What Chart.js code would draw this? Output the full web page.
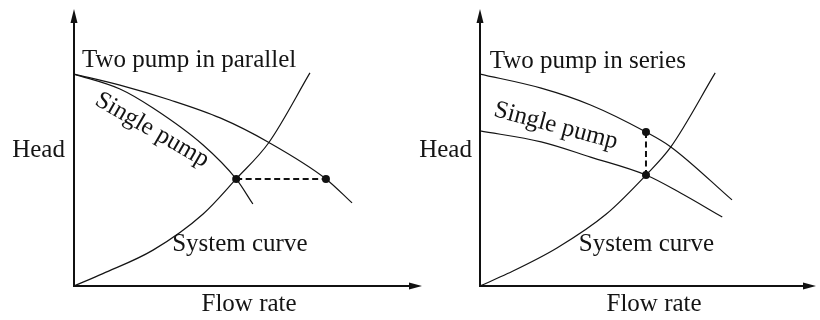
<!DOCTYPE html>
<html lang="en">
<head>
<meta charset="UTF-8">
<title>Pumps in parallel and in series</title>
<script src="https://cdn.jsdelivr.net/npm/chart.js"></script>
<style>
    body {
        margin: 0;
        background: #fff;
    }
    .wrap {
        position: relative;
        width: 820px;
        height: 320px;
    }
    canvas {
        position: absolute;
        top: 0;
    }
    #parallel { left: 0; }
    #series { left: 410px; }
</style>
</head>
<body>
<div class="wrap">
    <canvas id="parallel" width="430" height="320"></canvas>
    <canvas id="series" width="410" height="320"></canvas>
</div>
<script>
// flow rate (x) and head (y), arbitrary units 0..10
var parallelFlow = [0, 1.32, 2.76, 4.20, 5.60, 7.24, 7.99];
var parallelHead = [7.68, 7.28, 6.74, 6.09, 5.20, 3.88, 3.01];
var singleFlowL = [0, 1.32, 2.27, 3.71, 4.66, 5.14];
var singleHeadL = [7.68, 7.14, 6.45, 5.11, 3.88, 2.97];
var systemFlowL = [0, 0.83, 2.27, 3.71, 4.66, 5.60, 6.78];
var systemHeadL = [0, 0.45, 1.30, 2.61, 3.88, 5.20, 7.72];
var opFlowL = [4.66, 7.24];   // operating points, one pump / two pumps
var opHeadL = [3.88, 3.88];

var seriesFlow = [0, 1.82, 3.29, 4.94, 5.68, 7.50];
var seriesHead = [7.68, 7.17, 6.56, 5.58, 5.04, 3.12];
var singleFlowR = [0, 1.82, 3.29, 4.94, 5.97, 7.21];
var singleHeadR = [5.62, 5.22, 4.67, 4.02, 3.37, 2.50];
var systemFlowR = [0, 0.82, 2.29, 3.76, 4.94, 5.68, 7.00];
var systemHeadR = [0, 0.45, 1.38, 2.61, 4.02, 5.04, 7.72];
var opFlowR = [4.94, 4.94];
var opHeadR = [5.58, 4.02];

var leftTexts = ['Two pump in parallel', 'Single pump', 'System curve', 'Head', 'Flow rate'];
var rightTexts = ['Two pump in series', 'Single pump', 'System curve', 'Head', 'Flow rate'];

var ink = '#141414';

function pts(xs, ys) {
    return xs.map(function (x, i) { return { x: x, y: ys[i] }; });
}

function curve(xs, ys) {
    return {
        data: pts(xs, ys),
        showLine: true,
        borderColor: ink,
        borderWidth: 1.2,
        pointRadius: 0,
        cubicInterpolationMode: 'monotone',
        fill: false
    };
}

// axes with arrowheads + the hand-placed labels
var sketchPlugin = {
    id: 'sketch',
    afterDatasetsDraw: function (chart, args, opts) {
        var ctx = chart.ctx, a = chart.chartArea;
        var sx = chart.scales.x, sy = chart.scales.y;
        ctx.save();
        ctx.strokeStyle = '#111';
        ctx.fillStyle = '#111';
        ctx.lineWidth = 2;
        ctx.beginPath();
        ctx.moveTo(a.left, a.top + 10);
        ctx.lineTo(a.left, a.bottom);
        ctx.lineTo(a.right - 10, a.bottom);
        ctx.stroke();

        ctx.beginPath();
        ctx.moveTo(a.left, a.top - 1);
        ctx.lineTo(a.left - 3.5, a.top + 13);
        ctx.lineTo(a.left + 3.5, a.top + 13);
        ctx.closePath();
        ctx.fill();
        ctx.beginPath();
        ctx.moveTo(a.right, a.bottom);
        ctx.lineTo(a.right - 13, a.bottom - 3.5);
        ctx.lineTo(a.right - 13, a.bottom + 3.5);
        ctx.closePath();
        ctx.fill();

        ctx.fillStyle = ink;
        ctx.font = '25px "Liberation Serif", serif';
        opts.labels.forEach(function (l) {
            ctx.save();
            ctx.translate(sx.getPixelForValue(l.x), sy.getPixelForValue(l.y));
            ctx.rotate((l.rot || 0) * Math.PI / 180);
            ctx.textAlign = l.align || 'left';
            ctx.textBaseline = l.rot ? 'middle' : 'alphabetic';
            ctx.fillText(l.text, 0, 0);
            ctx.restore();
        });
        ctx.restore();
    }
};

function makeChart(id, pad, sets, labels) {
    return new Chart(document.getElementById(id), {
        type: 'scatter',
        data: { datasets: sets },
        options: {
            responsive: false,
            animation: false,
            layout: { padding: pad },
            scales: {
                x: { type: 'linear', min: 0, max: 10, display: false },
                y: { type: 'linear', min: 0, max: 10, display: false }
            },
            plugins: {
                legend: { display: false },
                tooltip: { enabled: false },
                sketch: { labels: labels }
            }
        },
        plugins: [sketchPlugin]
    });
}

function dots(xs, ys) {
    return {
        data: pts(xs, ys),
        showLine: false,
        pointRadius: 4,
        pointBackgroundColor: '#111',
        pointBorderWidth: 0
    };
}

function dashed(xs, ys) {
    return {
        data: pts(xs, ys),
        showLine: true,
        borderColor: '#111',
        borderWidth: 2,
        borderDash: [6, 3.5],
        pointRadius: 0
    };
}

makeChart('parallel', { left: 74, right: 8, top: 10, bottom: 34 }, [
    dots(opFlowL, opHeadL),
    dashed(opFlowL, opHeadL),
    curve(parallelFlow, parallelHead),
    curve(singleFlowL, singleHeadL),
    curve(systemFlowL, systemHeadL)
], [
    { text: leftTexts[0], x: 0.23, y: 7.93 },
    { text: leftTexts[1], x: 2.24, y: 5.65, rot: 30, align: 'center' },
    { text: leftTexts[2], x: 2.82, y: 1.27 },
    { text: leftTexts[3], x: -0.26, y: 4.67, align: 'right' },
    { text: leftTexts[4], x: 5.03, y: -0.91, align: 'center' }
]);

makeChart('series', { left: 70, right: 0, top: 10, bottom: 34 }, [
    dots(opFlowR, opHeadR),
    dashed(opFlowR, opHeadR),
    curve(seriesFlow, seriesHead),
    curve(singleFlowR, singleHeadR),
    curve(systemFlowR, systemHeadR)
], [
    { text: rightTexts[0], x: 0.29, y: 7.90 },
    { text: rightTexts[1], x: 2.26, y: 5.80, rot: 15, align: 'center' },
    { text: rightTexts[2], x: 2.94, y: 1.27 },
    { text: rightTexts[3], x: -0.24, y: 4.67, align: 'right' },
    { text: rightTexts[4], x: 5.18, y: -0.91, align: 'center' }
]);
</script>
</body>
</html>
